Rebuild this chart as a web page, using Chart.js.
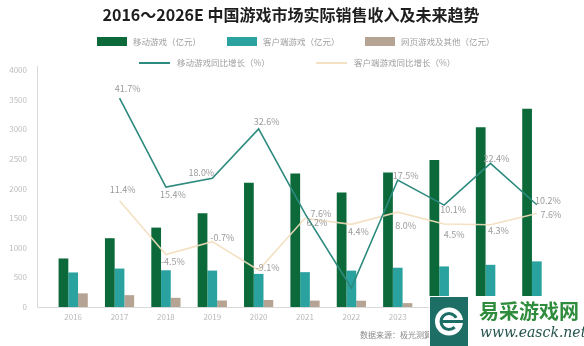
<!DOCTYPE html>
<html>
<head>
<meta charset="utf-8">
<script src="https://cdn.jsdelivr.net/npm/chart.js@4/dist/chart.umd.min.js"></script>
<style>
  html, body { margin: 0; padding: 0; background: #fff; }
  #card { width: 584px; height: 346px; position: relative; }
</style>
</head>
<body>
<div id="card"><canvas id="myChart" width="584" height="346"></canvas></div>
<script>
// datos del grafico
const years = ["2016", "2017", "2018", "2019", "2020", "2021", "2022", "2023", "2024E", "2025E", "2026E"];
const mobileRevenue = [819, 1161, 1340, 1581, 2097, 2255, 1931, 2269, 2480, 3035, 3345];
const clientRevenue = [583, 649, 620, 615, 559, 588, 614, 663, 685, 712, 770];
const webRevenue = [230, 200, 155, 110, 118, 108, 106, 65, 60, 58, 55];
const mobileGrowth = [null, 41.7, 15.4, 18.0, 32.6, 7.6, -14.4, 17.5, 10.1, 22.4, 10.2];
const clientGrowth = [null, 11.4, -4.5, -0.7, -9.1, 6.2, 4.4, 8.0, 4.5, 4.3, 7.6];
const revenueTicks = [0, 500, 1000, 1500, 2000, 2500, 3000, 3500, 4000];

const FONT = "'Noto Sans CJK SC', 'Noto Sans', sans-serif";

// desplazamiento de cada etiqueta de porcentaje respecto a su punto (null = sin etiqueta)
const mobileLabelShift = [null, [8, -10], [7, 7], [-11, -6], [8, -7], [16, 0], null, [8, -4], [9, 4], [6, -5], [11, -4]];
const clientLabelShift = [null, [3, -11], [7, 7], [10, -4], [9, -3], [12, 4], [7, 7], [8, 13], [10, 11], [8, 6], [14, 1]];

// ETIQUETAS DE LAS LINEAS
const growthLabels = {
  id: "growthLabels",
  afterDatasetsDraw(chart) {
    const c = chart.ctx;
    c.save();
    c.font = "9px " + FONT;
    c.fillStyle = "#9a9a9a";
    c.textAlign = "center";
    c.textBaseline = "middle";
    [[3, mobileGrowth, mobileLabelShift], [4, clientGrowth, clientLabelShift]].forEach(([idx, values, shifts]) => {
      const meta = chart.getDatasetMeta(idx);
      meta.data.forEach((pt, i) => {
        if (values[i] == null || !shifts[i]) return;
        c.fillText(values[i].toFixed(1) + "%", pt.x + shifts[i][0], pt.y + shifts[i][1]);
      });
    });
    c.restore();
  },
};

// TITULO, LEYENDA, EJES Y FUENTE
const decor = {
  id: "decor",
  beforeDatasetsDraw(chart) {
    const c = chart.ctx;
    const a = chart.chartArea;
    c.save();
    c.strokeStyle = "#d9d9d9";
    c.lineWidth = 1;
    c.beginPath();
    c.moveTo(37.5, a.top - 4);
    c.lineTo(37.5, a.bottom + 0.5);
    c.lineTo(a.right, a.bottom + 0.5);
    c.stroke();
    c.restore();
  },
  afterDraw(chart) {
    const c = chart.ctx;
    const ds = chart.data.datasets;
    c.save();

    // titulo
    c.fillStyle = "#1e1e1e";
    c.font = "bold 16px " + FONT;
    c.textAlign = "center";
    c.textBaseline = "middle";
    c.fillText("2016～2026E 中国游戏市场实际销售收入及未来趋势", 291, 15);

    // leyenda: barras
    c.font = "8.5px " + FONT;
    c.textAlign = "left";
    const boxes = [[97, 0], [227, 1], [365, 2]];
    boxes.forEach(([x, i]) => {
      c.fillStyle = ds[i].backgroundColor;
      c.fillRect(x, 37, 30, 9);
      c.fillStyle = "#a0a0a0";
      c.fillText(ds[i].label, x + 36, 42);
    });
    // leyenda: lineas
    [[139, 3], [316, 4]].forEach(([x, i]) => {
      c.strokeStyle = ds[i].borderColor;
      c.lineWidth = 2;
      c.beginPath();
      c.moveTo(x, 63);
      c.lineTo(x + 31, 63);
      c.stroke();
      c.fillStyle = "#a0a0a0";
      c.fillText(ds[i].label, x + 38, 63);
    });

    // fuente
    c.font = "8px " + FONT;
    c.fillStyle = "#8a8a8a";
    c.fillText("数据来源：极光测算", 360, 335);

    // sello del sitio
    c.fillStyle = "#ffffff";
    c.fillRect(429, 296, 155, 50);
    c.fillStyle = "#1d6f66";
    c.fillRect(430, 297, 38, 49);
    c.fillStyle = "#ffffff";
    c.beginPath();
    c.arc(449, 321.5, 14, 0, Math.PI * 2);
    c.fill();
    c.strokeStyle = "#1d6f66";
    c.lineWidth = 3;
    c.beginPath();
    c.arc(449, 321.5, 8, Math.PI * 0.25, Math.PI * 1.85);
    c.stroke();
    c.beginPath();
    c.moveTo(441, 321.5);
    c.lineTo(468, 321.5);
    c.stroke();
    c.fillStyle = "#2f8c3c";
    c.font = "bold 20px 'Noto Sans CJK SC', sans-serif";
    c.textBaseline = "middle";
    c.fillText("易采游戏网", 479, 311);
    c.fillStyle = "#24544c";
    c.font = "italic 14px 'DejaVu Serif', serif";
    c.fillText("www.easck.net", 480, 333);

    c.restore();
  },
};

var data = {
  labels: years,
  datasets: [
    { label: "移动游戏（亿元）", data: mobileRevenue, backgroundColor: "#0c6a3a", order: 1 },
    { label: "客户端游戏（亿元）", data: clientRevenue, backgroundColor: "#2aa3a0", order: 1 },
    { label: "网页游戏及其他（亿元）", data: webRevenue, backgroundColor: "#b5a393", order: 1 },
    {
      type: "line",
      label: "移动游戏同比增长（%）",
      data: mobileGrowth,
      yAxisID: "y1",
      borderColor: "#2c8a7e",
      borderWidth: 1.6,
      pointRadius: 0,
      tension: 0,
      order: 0,
    },
    {
      type: "line",
      label: "客户端游戏同比增长（%）",
      data: clientGrowth,
      yAxisID: "y1",
      borderColor: "rgba(243, 222, 188, 0.9)",
      borderWidth: 1.6,
      pointRadius: 0,
      tension: 0,
      order: 0,
    },
  ],
};

var options = {
  responsive: false,
  animation: false,
  layout: { padding: { top: 70, right: 24, left: 0, bottom: 0 } },
  datasets: { bar: { categoryPercentage: 0.63, barPercentage: 1.0 } },
  plugins: { legend: { display: false }, tooltip: { enabled: false } },
  scales: {
    x: {
      grid: { display: false, drawTicks: false },
      border: { display: false },
      ticks: { color: "#b9b9b9", font: { size: 8, family: FONT }, padding: 5, maxRotation: 0, autoSkip: false },
      afterFit(scale) { scale.height = 39; },
    },
    y: {
      min: 0,
      max: 4000,
      afterBuildTicks(scale) { scale.ticks = revenueTicks.map((v) => ({ value: v })); },
      grid: { display: false, drawTicks: false },
      border: { display: false },
      ticks: {
        color: "#bdbdbd",
        font: { size: 8, family: FONT },
        padding: 23,
        callback: (v) => String(v),
      },
      afterFit(scale) { scale.width = 50; },
    },
    y1: { display: false, min: -20, max: 50 },
  },
};

// CREAR GRAFICO
var ctx = document.getElementById("myChart").getContext("2d");
var myChart = new Chart(ctx, {
  type: "bar",
  data: data,
  options: options,
  plugins: [decor, growthLabels],
});
</script>
</body>
</html>
